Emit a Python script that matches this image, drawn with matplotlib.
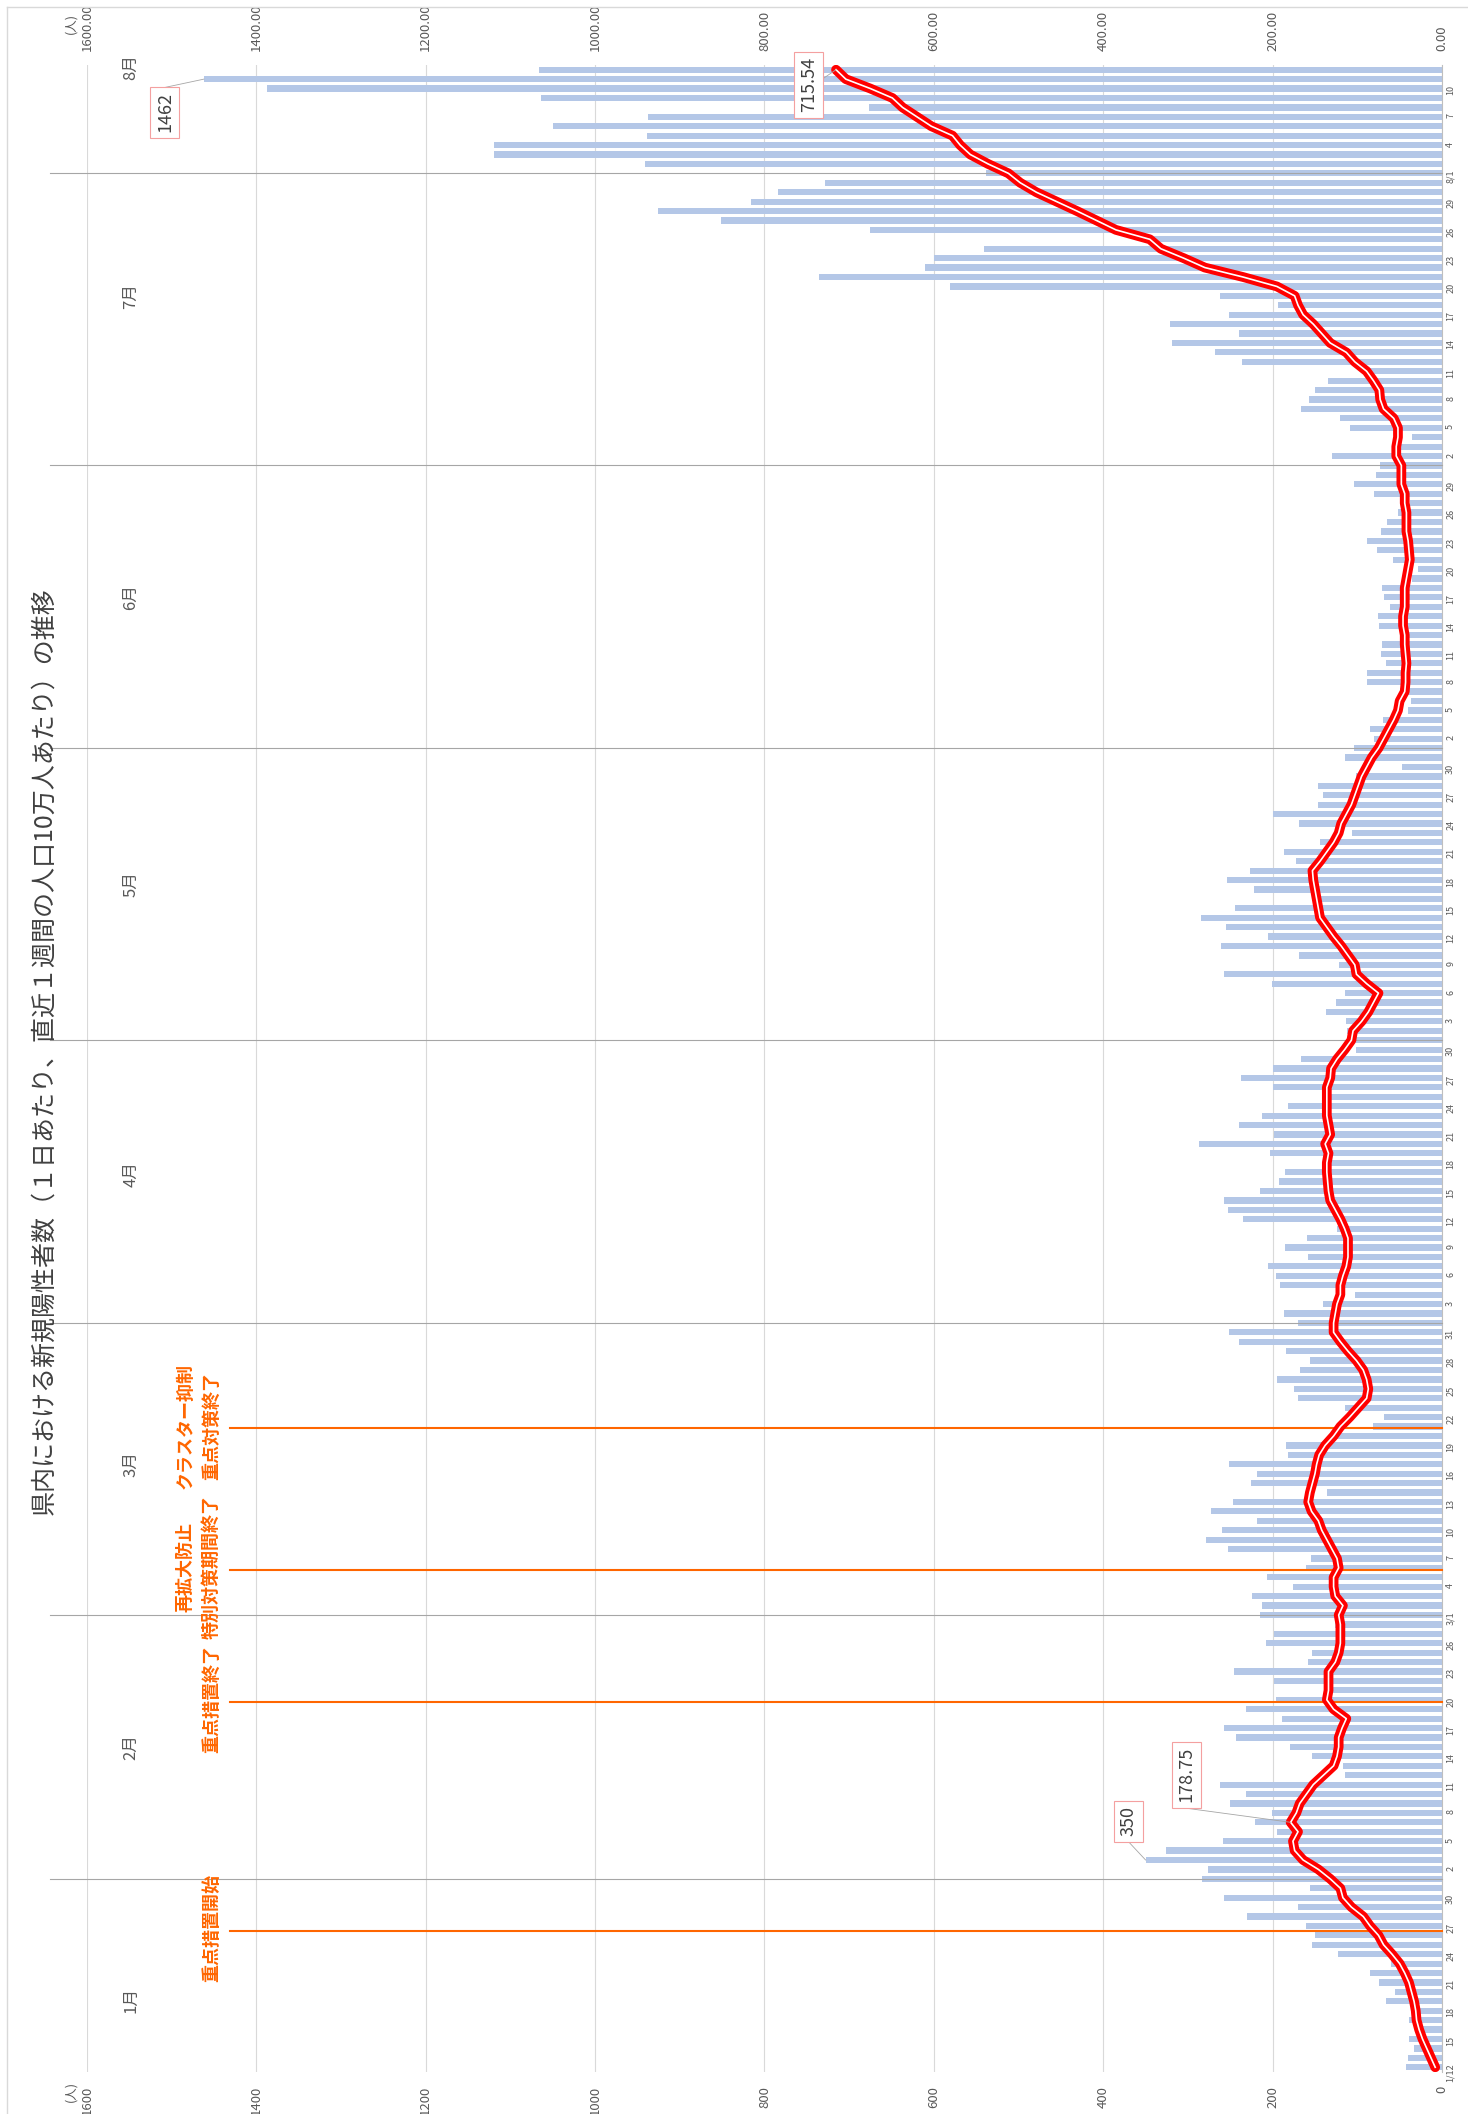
import matplotlib.pyplot as plt
import numpy as np
import pandas as pd
from matplotlib.lines import Line2D

plt.rcParams['font.family'] = ['Noto Sans CJK JP', 'DejaVu Sans']

# daily data 2021/1/12 - 8/12
days = pd.date_range('2021-01-12', '2021-08-12', freq='D')

cases = [
    # 1/12 - 1/31
    43, 40, 33, 39, 27, 39, 32, 66, 56, 74, 85, 60, 123, 153, 150, 161, 230, 170, 257, 156,
    # 2/1 - 2/28
    283, 276, 350, 326, 259, 195, 221, 201, 250, 231, 262, 115, 117, 153, 179, 243, 257, 189,
    231, 196, 130, 198, 246, 158, 154, 208, 198, 126,
    # 3/1 - 3/31
    215, 212, 224, 176, 207, 160, 155, 253, 279, 260, 218, 273, 247, 136, 226, 218, 251, 182,
    184, 125, 81, 69, 115, 170, 175, 195, 168, 156, 184, 240, 252,
    # 4/1 - 4/30
    170, 187, 141, 103, 191, 196, 205, 158, 185, 159, 124, 235, 253, 257, 215, 192, 185, 136,
    203, 287, 198, 240, 213, 182, 136, 200, 237, 200, 167, 102,
    # 5/1 - 5/31
    107, 112, 113, 137, 125, 115, 201, 258, 122, 169, 261, 205, 255, 284, 244, 148, 222, 254,
    227, 172, 187, 144, 106, 169, 200, 147, 141, 147, 101, 47, 115,
    # 6/1 - 6/30
    104, 80, 85, 70, 40, 37, 50, 88, 89, 66, 72, 71, 40, 74, 76, 61, 69, 71, 36, 28, 58, 77,
    88, 72, 65, 52, 38, 80, 104, 78,
    # 7/1 - 7/31
    73, 130, 50, 36, 109, 120, 166, 157, 150, 135, 95, 236, 268, 319, 240, 321, 251, 194, 262,
    581, 736, 610, 600, 541, 340, 675, 851, 926, 816, 784, 729,
    # 8/1 - 8/12
    539, 941, 1120, 1120, 939, 1050, 938, 677, 1064, 1387, 1462, 1066,
]

rate = [
    8, 13, 18, 23, 27, 30, 31, 33, 36, 39, 44, 50, 59, 69, 75, 85, 93, 107, 117, 120,
    132, 146, 164, 174, 176, 170, 178.75, 172, 168, 160, 152, 140, 128, 124, 122, 122, 118, 113,
    128, 136, 134, 134, 134, 126, 122, 120, 120, 120,
    122, 117, 126, 128, 128, 122, 124, 130, 136, 142, 146, 154, 158, 156, 153, 150, 148, 145,
    138, 128, 120, 109, 99, 89, 87, 89, 93, 101, 111, 120, 128,
    128, 126, 124, 120, 120, 117, 113, 111, 111, 111, 115, 120, 126, 132, 134, 135, 136, 136,
    134, 138, 132, 134, 136, 136, 136, 136, 132, 131, 124, 115,
    107, 105, 95, 87, 81, 75, 89, 101, 103, 111, 119, 128, 136, 144, 146, 148, 150, 152, 153,
    144, 136, 128, 122, 119, 113, 107, 103, 99, 95, 89, 83,
    75, 69, 63, 57, 52, 50, 44, 43, 43, 42, 43, 44, 44, 46, 46, 44, 44, 44, 42, 40, 38, 39,
    40, 42, 42, 42, 44, 44, 48, 48,
    48, 54, 54, 52, 52, 57, 69, 73, 74, 81, 89, 103, 113, 132, 142, 152, 164, 170, 174, 195,
    235, 280, 305, 332, 345, 385, 408, 431, 455, 479, 498,
    512, 536, 557, 569, 578, 603, 620, 637, 649, 675, 704, 715.54,
]

events = [
    (14.5, ['重点措置開始']),
    (38.8, ['重点措置終了']),
    (52.8, ['再拡大防止', '特別対策期間終了']),
    (67.8, ['クラスター抑制', '重点対策終了']),
]

month_names = ['1月', '2月', '3月', '4月', '5月', '6月', '7月', '8月']
month_label_pos = [7.1, 34, 64, 94.8, 125.6, 156, 188, 212.3]

W, H = 1468, 2114
fig = plt.figure(figsize=(W / 100, H / 100), dpi=100)
ax = fig.add_axes([87 / W, 1 - 2072 / H, (1442 - 87) / W, (2072 - 65) / H])

idx = np.arange(len(days))
ax.barh(idx, cases, height=0.66, color='#B4C7E7', zorder=2)

# red line with white core
ax.plot(rate, idx, color='#FF0000', lw=7, solid_capstyle='round',
        solid_joinstyle='round', zorder=5)
ax.plot(rate, idx, color='white', lw=1.2, zorder=6)

ax.set_xlim(1600, 0)
ax.set_ylim(-0.5, len(days) - 0.5)

# value axis
ticks = list(range(0, 1601, 200))
ax.set_xticks(ticks)
ax.set_xticklabels([str(t) for t in ticks], rotation=90, fontsize=9.5, color='#595959')
ax.tick_params(axis='x', length=0, pad=10)
sec = ax.secondary_xaxis('top')
sec.set_xticks(ticks)
sec.set_xticklabels(['%.2f' % t for t in ticks], rotation=90, fontsize=9.5, color='#595959')
sec.tick_params(axis='x', length=0, pad=10)
sec.spines['top'].set_visible(False)
ax.grid(axis='x', color='#D9D9D9', lw=0.8, zorder=0)

# date axis (right side)
ylab_pos = list(range(0, len(days), 3))
ylab = []
for i in ylab_pos:
    d = days[i]
    if i == 0 or d.day == 1:
        ylab.append('%d/%d' % (d.month, d.day))
    else:
        ylab.append(str(d.day))
ax.yaxis.tick_right()
ax.set_yticks(ylab_pos)
ax.set_yticklabels(ylab, rotation=90, fontsize=6.5, color='#595959')
ax.tick_params(axis='y', length=0, pad=3)

for s in ['top', 'left', 'bottom']:
    ax.spines[s].set_visible(False)
ax.spines['right'].set_color('#BFBFBF')
ax.spines['right'].set_linewidth(0.8)

# month separators and labels
for i, d in enumerate(days):
    if d.day == 1:
        ax.plot([1644, 0], [i, i], color='#A6A6A6', lw=0.8, clip_on=False, zorder=3)
for name, p in zip(month_names, month_label_pos):
    ax.text(1548, p, name, rotation=90, ha='center', va='center',
            fontsize=12, color='#595959')

# events
for pos, lines in events:
    ax.plot([1431, 0], [pos, pos], color='#FF6600', lw=1.5, clip_on=False, zorder=4)
    xs = [1453] if len(lines) == 1 else [1484, 1453]
    for x, t in zip(xs, lines):
        ax.text(x, pos + 0.3, t, rotation=90, ha='center', va='center', fontsize=13,
                fontweight='bold', color='#FF6600', clip_on=False)

# data labels
box = dict(boxstyle='square,pad=0.3', fc='white', ec='#F4A0A0', lw=0.8)
labels = [
    ('1462', (1508, 207.5), [(1509, 210.1), (cases[211], 211)]),
    ('715.54', (747.6, 210.4), [(735, 210.8), (rate[212], 212)]),
    ('350', (370.3, 26.1), [(370.8, 24.0), (cases[22], 22)]),
    ('178.75', (301.8, 31.05), [(302.3, 27.5), (rate[26], 26)]),
]
for txt, (x, y), leader in labels:
    ax.plot([leader[0][0], leader[1][0]], [leader[0][1], leader[1][1]],
            color='#A6A6A6', lw=0.6, clip_on=False, zorder=7)
    ax.text(x, y, txt, rotation=90, ha='center', va='center', fontsize=13,
            color='#404040', bbox=box, clip_on=False, zorder=8)

fig.text(71 / W, 1 - 24 / H, '(人)', rotation=90, ha='center', va='center',
         fontsize=9, color='#595959')
fig.text(71 / W, 1 - 2092 / H, '(人)', rotation=90, ha='center', va='center',
         fontsize=9, color='#595959')

fig.text(44 / W, 1 - 1051 / H,
         '県内における新規陽性者数（１日あたり、直近１週間の人口10万人あたり）の推移',
         rotation=90, ha='center', va='center', fontsize=18, color='#404040')

# chart frame
fig.add_artist(Line2D([7 / W, 7 / W], [0, 1 - 7 / H], color='#D9D9D9', lw=1))
fig.add_artist(Line2D([7 / W, 1], [1 - 7 / H, 1 - 7 / H], color='#D9D9D9', lw=1))

fig.savefig('out.png', dpi=100)
